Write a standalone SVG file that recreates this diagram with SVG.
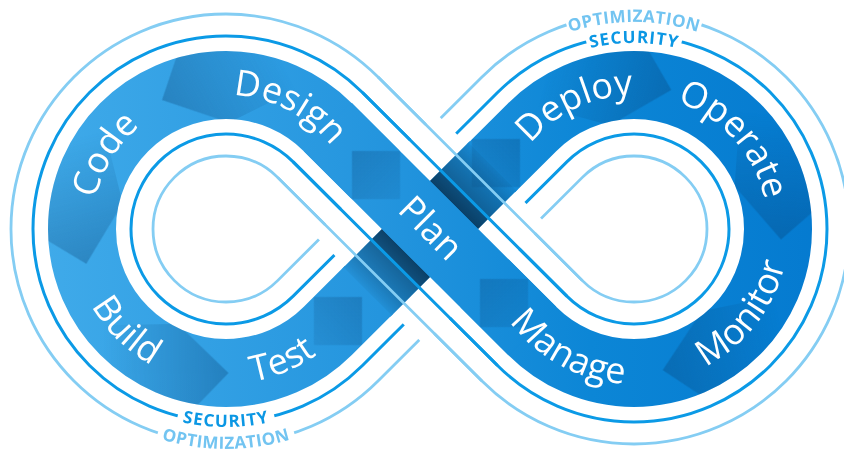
<svg xmlns="http://www.w3.org/2000/svg" width="844" height="450" viewBox="0 0 844 450">
<style>
.line-blue{fill:none;stroke:#0b9ae6;stroke-width:3}
.line-light{fill:none;stroke:#84cdf3;stroke-width:2.8}
.band{fill:none;stroke:url(#bandGrad);stroke-width:68}
.gap{fill:none;stroke:#fff;stroke-width:8}
.chev{fill:url(#chevGrad)}
.arrow{fill:url(#arrowGrad)}
.lbl{font-family:"Open Sans","Noto Sans","Liberation Sans",sans-serif;font-size:36px;fill:#fff}
.sec{font-family:"Open Sans","Liberation Sans",sans-serif;font-weight:700;font-size:17px;fill:#0b97e4;letter-spacing:1px}
.opt{font-family:"Open Sans","Liberation Sans",sans-serif;font-weight:700;font-size:17px;fill:#72c4f1;letter-spacing:0.4px}
</style>
<defs>
<linearGradient id="bandGrad" gradientUnits="userSpaceOnUse" x1="0" y1="0" x2="844" y2="0">
<stop offset="0" stop-color="#43adeb"/>
<stop offset="0.45" stop-color="#2495de"/>
<stop offset="0.7" stop-color="#0c86d6"/>
<stop offset="1" stop-color="#0479cf"/>
</linearGradient>
<linearGradient id="chevGrad" x1="1" y1="0" x2="0" y2="0">
<stop offset="0" stop-color="#073a6b" stop-opacity="0.26"/>
<stop offset="1" stop-color="#073a6b" stop-opacity="0.1"/>
</linearGradient>
<linearGradient id="arrowGrad" x1="1" y1="0" x2="0" y2="0">
<stop offset="0" stop-color="#073a6b" stop-opacity="0.3"/>
<stop offset="0.45" stop-color="#073a6b" stop-opacity="0.16"/>
<stop offset="1" stop-color="#073a6b" stop-opacity="0"/>
</linearGradient>
<linearGradient id="shadeDown" x1="0" y1="0" x2="0" y2="1">
<stop offset="0" stop-color="#031a30" stop-opacity="0.68"/>
<stop offset="0.28" stop-color="#031a30" stop-opacity="0.55"/>
<stop offset="0.3" stop-color="#031a30" stop-opacity="0.38"/>
<stop offset="0.7" stop-color="#031a30" stop-opacity="0.22"/>
<stop offset="1" stop-color="#031a30" stop-opacity="0.05"/>
</linearGradient>
<linearGradient id="shadeUp" x1="0" y1="1" x2="0" y2="0">
<stop offset="0" stop-color="#031a30" stop-opacity="0.68"/>
<stop offset="0.28" stop-color="#031a30" stop-opacity="0.55"/>
<stop offset="0.3" stop-color="#031a30" stop-opacity="0.38"/>
<stop offset="0.7" stop-color="#031a30" stop-opacity="0.22"/>
<stop offset="1" stop-color="#031a30" stop-opacity="0.05"/>
</linearGradient>
<mask id="bandMask" maskUnits="userSpaceOnUse" x="0" y="0" width="844" height="450">
<path d="M327.82,127.18 L532.18,330.82 A144,144 0 1 0 532.18,127.18 L327.82,330.82 A144,144 0 1 1 327.82,127.18 Z" fill="none" stroke="#fff" stroke-width="68"/>
</mask>
<path id="tp-code" d="M108.2,292.9 A134,134 0 0 1 229.5,95.0"/>
<path id="tp-design" d="M154.0,116.0 A134,134 0 0 1 359.9,223.2"/>
<path id="tp-deploy" d="M500.4,218.5 A134,134 0 0 1 709.9,118.6"/>
<path id="tp-operate" d="M606.1,97.9 A134,134 0 0 1 761.4,270.4"/>
<path id="tp-build" d="M75.9,190.2 A155,155 0 0 0 267.4,378.4"/>
<path id="tp-test" d="M132.7,352.8 A155,155 0 0 0 379.8,247.9"/>
<path id="tp-monitor" d="M613.2,382.6 A155,155 0 0 0 777.4,170.2"/>
<path id="tp-manage" d="M479.1,233.1 A155,155 0 0 0 715.0,361.2"/>
<path id="tp-sec-top" d="M514.4,86.5 A186,186 0 0 1 753.6,86.5"/>
<path id="tp-opt-top" d="M500.9,70.4 A207,207 0 0 1 767.1,70.4"/>
<path id="tp-sec-bot" d="M98.7,380.7 A198,198 0 0 0 353.3,380.7"/>
<path id="tp-opt-bot" d="M84.6,397.5 A220,220 0 0 0 367.4,397.5"/>
<polygon id="diamond" points="0,0 -34,-34 -68,0 -34,34"/>
<polygon id="chevron" points="0,0 -50,-50 -125,-50 -125,50 -50,50"/>
</defs>
<rect width="844" height="450" fill="#fff"/>

<g id="connectors">
<g id="guide-lines">
<path class="line-blue" d="M362.47,92.53 L566.83,296.17 A95,95 0 1 0 566.83,161.83 L362.47,365.47 A193,193 0 1 1 362.47,92.53 Z"/>
<path class="line-blue" d="M293.17,161.83 L497.53,365.47 A193,193 0 1 0 497.53,92.53 L293.17,296.17 A95,95 0 1 1 293.17,161.83 Z"/>
<path class="line-light" d="M378.02,76.98 L582.38,280.62 A73,73 0 1 0 582.38,177.38 L378.02,381.02 A215,215 0 1 1 378.02,76.98 Z"/>
<path class="line-light" d="M277.62,177.38 L481.98,381.02 A215,215 0 1 0 481.98,76.98 L277.62,280.62 A73,73 0 1 1 277.62,177.38 Z"/>
</g>
<g id="loop-band">
<path class="band" d="M327.82,127.18 L532.18,330.82 A144,144 0 1 0 532.18,127.18 L327.82,330.82 A144,144 0 1 1 327.82,127.18 Z"/>
</g>
<g id="crossing">
<rect x="-77" y="-86" width="154" height="172" fill="#fff" transform="translate(430,229) rotate(45)"/>
<path class="band" d="M366.4,292.6 L493.6,165.4"/>
<g mask="url(#bandMask)">
<use href="#chevron" class="arrow" transform="translate(162,100) rotate(153.6)"/>
<use href="#chevron" class="arrow" transform="translate(86.3,263.8) rotate(76)"/>
<use href="#chevron" class="arrow" transform="translate(228.5,373) rotate(-1)"/>
<use href="#diamond" class="chev" transform="translate(362,297) rotate(-45)"/>
<use href="#diamond" class="chev" transform="translate(520,139) rotate(-45)"/>
<use href="#chevron" class="arrow" transform="translate(671.3,89.9) rotate(15)"/>
<use href="#chevron" class="arrow" transform="translate(781,239.5) rotate(94)"/>
<use href="#chevron" class="arrow" transform="translate(662.7,370.1) rotate(168.5)"/>
</g>
<g transform="translate(430,229) rotate(45)">
<rect x="-34" y="34" width="68" height="54" fill="url(#shadeDown)"/>
<rect x="-34" y="-88" width="68" height="54" fill="url(#shadeUp)"/>
</g>
<path class="line-blue" d="M362.47,92.53 L566.83,296.17 M293.17,161.83 L497.53,365.47"/>
<path class="line-light" d="M378.02,76.98 L582.38,280.62 M277.62,177.38 L481.98,381.02"/>
<path class="band" d="M327.82,127.18 L532.18,330.82"/>
<g mask="url(#bandMask)">
<use href="#diamond" class="chev" transform="translate(480,279) rotate(225)"/>
<use href="#diamond" class="chev" transform="translate(352,151) rotate(225)"/>
</g>
</g>
</g>

<g id="node-design"><text class="lbl"><textPath href="#tp-design" startOffset="50%" text-anchor="middle">Design</textPath></text></g>
<g id="node-code"><text class="lbl"><textPath href="#tp-code" startOffset="50%" text-anchor="middle">Code</textPath></text></g>
<g id="node-build"><text class="lbl"><textPath href="#tp-build" startOffset="50%" text-anchor="middle">Build</textPath></text></g>
<g id="node-test"><text class="lbl"><textPath href="#tp-test" startOffset="50%" text-anchor="middle">Test</textPath></text></g>
<g id="node-plan"><text class="lbl" transform="translate(430,229) rotate(45)" x="0" y="11" text-anchor="middle">Plan</text></g>
<g id="node-deploy"><text class="lbl"><textPath href="#tp-deploy" startOffset="50%" text-anchor="middle">Deploy</textPath></text></g>
<g id="node-operate"><text class="lbl"><textPath href="#tp-operate" startOffset="50%" text-anchor="middle">Operate</textPath></text></g>
<g id="node-monitor"><text class="lbl"><textPath href="#tp-monitor" startOffset="50%" text-anchor="middle">Monitor</textPath></text></g>
<g id="node-manage"><text class="lbl"><textPath href="#tp-manage" startOffset="50%" text-anchor="middle">Manage</textPath></text></g>

<g id="ring-labels">
<path class="gap" d="M566.5,24.9 A215,215 0 0 1 701.5,24.9"/>
<path class="gap" d="M586.3,42 A193,193 0 0 1 681.7,42"/>
<path class="gap" d="M177.7,415.9 A193,193 0 0 0 274.3,415.9"/>
<path class="gap" d="M157.8,432.9 A215,215 0 0 0 294.2,432.9"/>
<text class="opt"><textPath href="#tp-opt-top" startOffset="50%" text-anchor="middle">OPTIMIZATION</textPath></text>
<text class="sec"><textPath href="#tp-sec-top" startOffset="50%" text-anchor="middle">SECURITY</textPath></text>
<text class="sec"><textPath href="#tp-sec-bot" startOffset="50%" text-anchor="middle">SECURITY</textPath></text>
<text class="opt"><textPath href="#tp-opt-bot" startOffset="50%" text-anchor="middle">OPTIMIZATION</textPath></text>
</g>
</svg>
